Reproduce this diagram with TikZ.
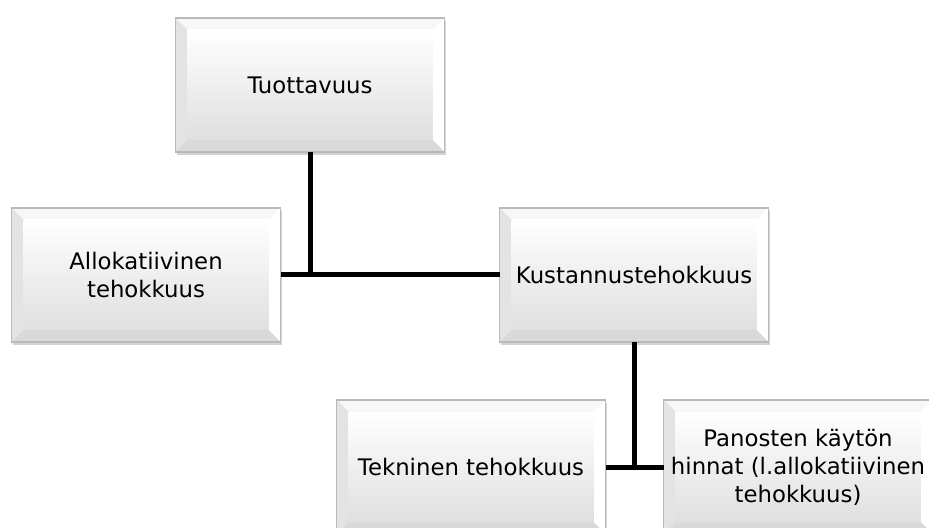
\documentclass[tikz,border=0pt]{standalone}
\usepackage{fontspec}
\setmainfont{DejaVu Sans}
\usepackage{tikz}
\usetikzlibrary{shadows}

\newcommand\ppb{path picture bounding box}

\tikzset{
  bevelbox/.style={draw=gray!55, line width=0.6pt, fill=gray!15,
    minimum width=134.5pt, minimum height=67pt, inner sep=0pt, outer sep=0pt,
    align=center, font=\fontsize{11.4}{14}\selectfont,
    drop shadow={shadow xshift=0.5pt, shadow yshift=-1.5pt, opacity=0.35},
    path picture={
      \fill[gray!6] (\ppb.north west) -- (\ppb.north east)
        -- ([shift={(-6pt,-6pt)}]\ppb.north east) -- ([shift={(6pt,-6pt)}]\ppb.north west) -- cycle;
      \fill[gray!22] (\ppb.north west) -- ([shift={(6pt,-6pt)}]\ppb.north west)
        -- ([shift={(6pt,6pt)}]\ppb.south west) -- (\ppb.south west) -- cycle;
      \fill[white] (\ppb.north east) -- ([shift={(-6pt,-6pt)}]\ppb.north east)
        -- ([shift={(-6pt,6pt)}]\ppb.south east) -- (\ppb.south east) -- cycle;
      \fill[gray!30] (\ppb.south west) -- (\ppb.south east)
        -- ([shift={(-6pt,6pt)}]\ppb.south east) -- ([shift={(6pt,6pt)}]\ppb.south west) -- cycle;
      \shade[top color=white, bottom color=gray!25]
        ([shift={(6pt,-6pt)}]\ppb.north west) rectangle ([shift={(-6pt,6pt)}]\ppb.south east);
    }},
  link/.style={black, line width=2.5pt}
}

\begin{document}
\begin{tikzpicture}[x=0.5pt,y=-0.5pt]
    \useasboundingbox (0,0) rectangle (929,528);
    \clip (0,0) rectangle (929,528);

    \node[bevelbox] (tuot)  at (310,85)  {Tuottavuus};
    \node[bevelbox] (allok) at (146,275) {Allokatiivinen\\tehokkuus};
    \node[bevelbox] (kust)  at (634,275) {Kustannustehokkuus};
    \node[bevelbox] (tekn)  at (471,467) {Tekninen tehokkuus};
    \node[bevelbox] (panos) at (798,467) {Panosten käytön\\hinnat (l.allokatiivinen\\tehokkuus)};

    \draw[link] (allok.east) -- (kust.west);
    \draw[link] (tuot.south) -- (tuot.south |- allok.east);
    \draw[link] (tekn.east) -- (panos.west);
    \draw[link] (kust.south) -- (kust.south |- tekn.east);
\end{tikzpicture}
\end{document}
